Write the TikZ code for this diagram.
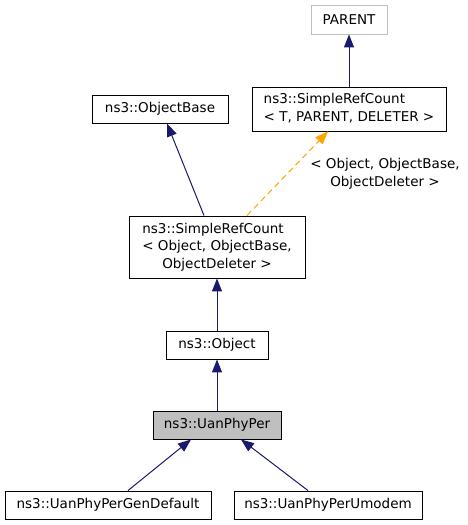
\documentclass[tikz,border=0pt]{standalone}
\usepackage{fontspec}
\setmainfont{DejaVu Sans}
\usetikzlibrary{arrows.meta}
\definecolor{edgeblue}{HTML}{191970}
\definecolor{edgeorange}{HTML}{FFA500}
\definecolor{boxgrey}{HTML}{BFBFBF}
\definecolor{lightborder}{HTML}{BFBFBF}
\begin{document}
\begin{tikzpicture}[x=1pt,y=-1pt,
  cls/.style={draw=black, line width=0.9pt, inner sep=0pt, minimum height=28pt,
    font=\fontsize{13.5}{17.5}\selectfont, anchor=center},
  inherit/.style={draw=edgeblue, line width=1pt, -{Triangle[length=13pt,width=10pt]}},
  tmpl/.style={draw=edgeorange, line width=1pt, dashed, dash pattern=on 6pt off 4pt,
    -{Triangle[length=13pt,width=10pt]}},
  elabel/.style={font=\fontsize{13.5}{17.5}\selectfont, align=center, inner sep=0pt}
]
\useasboundingbox[fill=white] (0,0) rectangle (468,525);

\node[cls, draw=lightborder, minimum width=76pt, minimum height=29pt] (parent) at (349,19.5) {PARENT};
\node[cls, minimum width=194pt, minimum height=44pt] (srct) at (349,109)
  {\begin{tabular}{@{}l@{}}ns3::SimpleRefCount\\< T, PARENT, DELETER >\end{tabular}};
\node[cls, minimum width=136pt] (objbase) at (160,109) {ns3::ObjectBase};
\node[cls, minimum width=176pt, minimum height=62pt] (srco) at (217,247)
  {\begin{tabular}{@{}l@{}}ns3::SimpleRefCount\\< Object, ObjectBase,\\\multicolumn{1}{@{}c@{}}{ObjectDeleter >}\end{tabular}};
\node[cls, minimum width=102pt] (object) at (217,345) {ns3::Object};
\node[cls, fill=boxgrey, minimum width=128pt] (uan) at (217,425) {ns3::UanPhyPer};
\node[cls, minimum width=206pt] (gen) at (108,505) {ns3::UanPhyPerGenDefault};
\node[cls, minimum width=188pt] (umodem) at (328,505) {ns3::UanPhyPerUmodem};

\draw[inherit] (srct.north) -- (parent.south);
\draw[inherit] ([xshift=-13pt]srco.north) -- ([xshift=7pt]objbase.south);
\draw[tmpl] ([xshift=30pt]srco.north) -- ([xshift=-21pt]srct.south);
\node[elabel] (lbl) at (385,174) {< Object, ObjectBase,\\ObjectDeleter >};
\draw[inherit] (object.north) -- (srco.south);
\draw[inherit] (uan.north) -- (object.south);
\draw[inherit] ([xshift=20pt]gen.north) -- ([xshift=-26pt]uan.south);
\draw[inherit] ([xshift=-20pt]umodem.north) -- ([xshift=24pt]uan.south);
\end{tikzpicture}
\end{document}
